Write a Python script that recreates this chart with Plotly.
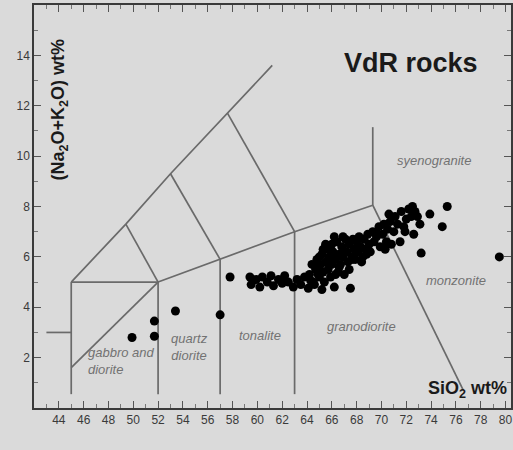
import plotly.graph_objects as go

# ---- data ----
sio2 = [49.9, 51.7, 51.7, 53.4, 57.0, 57.8,
        59.4, 59.5, 59.9, 60.2, 60.4, 60.8, 61.1, 61.3, 61.7, 62.0, 62.2, 62.5, 62.9, 63.2,
        63.5, 63.8, 64.1, 64.3, 64.6, 64.9, 65.2,
        64.2, 64.4, 64.5, 64.7, 64.8, 65.0, 65.1, 65.2, 65.3, 65.4, 65.5, 65.6, 65.7, 65.8,
        65.9, 66.0, 66.0, 66.1, 66.2, 66.3, 66.4, 66.5, 66.6, 66.7, 66.8, 66.9, 67.0, 67.1,
        67.2, 67.3, 67.4, 67.5, 67.6, 67.7, 67.8, 67.9, 68.0, 68.1, 68.2, 68.3, 68.5, 68.6,
        68.7, 68.9, 69.0, 69.1, 69.3, 69.4, 69.6, 69.8, 69.9, 70.1, 70.2, 70.3, 70.4, 70.5,
        70.7, 70.8, 71.0, 71.1, 71.3, 71.5, 71.6, 71.8, 72.0, 72.2, 72.4, 72.5, 72.6, 72.7,
        73.1, 73.2, 73.9, 74.9, 75.3, 79.5,
        65.0, 65.5, 66.3, 66.9, 67.4, 68.4, 65.3, 66.6, 67.0, 64.9, 65.8, 66.2, 68.8, 67.7,
        71.9, 72.9, 70.6, 69.7]
alkali = [2.8, 2.85, 3.45, 3.85, 3.7, 5.2,
          5.2, 4.9, 5.1, 4.8, 5.2, 5.0, 5.25, 4.85, 5.1, 4.95, 5.25, 5.0, 4.8, 5.1,
          4.9, 5.2, 4.75, 5.05, 4.9, 5.3, 4.7,
          5.3, 5.7, 5.0, 5.5, 5.9, 5.2, 5.7, 6.1, 5.4, 5.0, 5.8, 6.3, 5.5, 6.0,
          5.2, 6.5, 5.7, 6.2, 4.8, 5.9, 6.6, 5.4, 6.1, 5.7, 6.4, 6.0, 5.3, 6.7,
          6.2, 5.8, 6.5, 4.75, 6.0, 6.7, 6.3, 5.9, 6.6, 6.2, 6.8, 6.4, 6.0, 6.7,
          6.3, 6.9, 6.5, 6.2, 7.0, 6.6, 6.8, 7.2, 6.4, 6.9, 7.3, 6.3, 6.6, 7.1,
          7.4, 6.5, 7.0, 7.6, 7.3, 6.6, 7.8, 7.2, 7.5, 7.9, 7.6, 8.0, 6.9, 7.8,
          7.3, 6.15, 7.7, 7.2, 8.0, 6.0,
          6.0, 6.5, 5.3, 6.8, 5.5, 5.8, 6.3, 5.6, 6.2, 5.6, 6.4, 6.8, 6.1, 5.9,
          7.0, 7.6, 7.7, 6.9]

# field boundary polylines (SiO2, Na2O+K2O)
boundaries = {
    "b1": ([45, 45], [0.55, 5]),
    "b2": ([45, 52], [5, 5]),
    "b3": ([52, 52], [0.55, 5]),
    "b4": ([45, 49.4, 53, 57.6, 61.2], [5, 7.3, 9.3, 11.7, 13.6]),
    "b5": ([49.4, 52], [7.3, 5]),
    "b6": ([53, 57], [9.3, 5.9]),
    "b7": ([57.6, 63], [11.7, 7]),
    "b8": ([52, 57, 63, 69.3], [5, 5.9, 7, 8.05]),
    "b9": ([57, 57], [0.55, 5.9]),
    "b10": ([63, 63], [0.55, 7]),
    "b11": ([69.3, 69.3], [8.05, 11.15]),
    "b12": ([69.3, 76.6], [8.05, 0.7]),
    "b13": ([43, 45], [3, 3]),
    "b14": ([45, 52], [1.6, 5]),
}

field_names = ["syenogranite", "monzonite", "granodiorite", "tonalite",
               "quartz<br>diorite", "gabbro and<br>diorite"]
field_x = [74.2, 76.0, 68.4, 60.2, 54.5, 46.2]
field_y = [9.84, 5.08, 3.25, 2.86, 2.42, 1.87]
field_anchor = ["center", "center", "center", "center", "center", "left"]

xticks = list(range(44, 81, 2))
yticks = list(range(2, 15, 2))

BG = "#dadada"
LINE = "#6a6a6a"
FONT = "Liberation Sans, Arial"

fig = go.Figure()
for name, (bx, by) in boundaries.items():
    fig.add_trace(go.Scatter(x=bx, y=by, mode="lines",
                             line=dict(color=LINE, width=1.7),
                             hoverinfo="skip", showlegend=False))

fig.add_trace(go.Scatter(x=sio2, y=alkali, mode="markers",
                         marker=dict(color="black", size=9, line=dict(width=0)),
                         showlegend=False))

for t, x, y, a in zip(field_names, field_x, field_y, field_anchor):
    fig.add_annotation(x=x, y=y, xref="x", yref="y", text=t, showarrow=False,
                       xanchor=a, yanchor="middle", align=a,
                       font=dict(family=FONT, size=13, color="#727272", style="italic"))

fig.add_annotation(x=0.79, y=0.856, xref="paper", yref="paper", text="<b>VdR rocks</b>",
                   xanchor="center", yanchor="middle", showarrow=False,
                   font=dict(family=FONT, size=27, color="#1a1a1a"))
fig.add_annotation(x=0.908, y=0.045, xref="paper", yref="paper",
                   text="<b>SiO<sub>2</sub> wt%</b>", showarrow=False,
                   xanchor="center", yanchor="middle",
                   font=dict(family=FONT, size=18, color="#1a1a1a"))
fig.add_annotation(x=0.054, y=0.74, xref="paper", yref="paper",
                   text="<b>(Na<sub>2</sub>O+K<sub>2</sub>O) wt%</b>", textangle=-90,
                   xanchor="center", yanchor="middle", showarrow=False,
                   font=dict(family=FONT, size=18, color="#1a1a1a"))

axis_common = dict(showgrid=False, zeroline=False, showline=True, linecolor="#3a3a3a",
                   linewidth=1.5, mirror="ticks", ticks="inside", ticklen=7,
                   tickcolor="#555555", tickwidth=1.2,
                   tickfont=dict(family=FONT, size=12, color="#3a3a3a"))

fig.update_xaxes(range=[42, 80.44], tickvals=xticks, ticktext=[str(v) for v in xticks],
                 minor=dict(dtick=1, tick0=0, ticks="inside", ticklen=4, tickcolor="#777777"),
                 **axis_common)
fig.update_yaxes(range=[0, 16], tickvals=yticks, ticktext=[str(v) for v in yticks],
                 minor=dict(dtick=1, tick0=0, ticks="inside", ticklen=4, tickcolor="#777777"),
                 **axis_common)

fig.update_layout(width=513, height=450, margin=dict(l=34, r=0, t=5, b=42),
                  paper_bgcolor=BG, plot_bgcolor=BG)

fig.write_html(
    "out.html",
    config={"displayModeBar": False},
    post_script="document.body.style.margin='0';document.body.style.overflow='hidden';"
                "document.body.style.background='%s';" % BG,
)
